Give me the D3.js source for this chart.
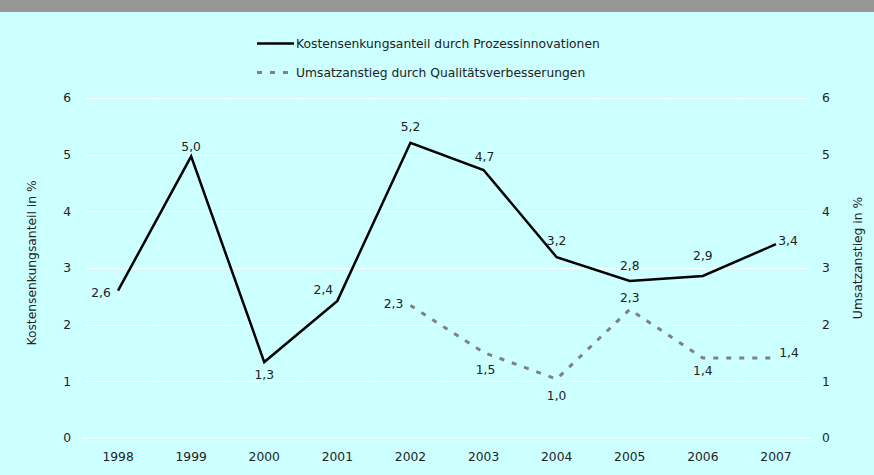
<!DOCTYPE html>
<html><head><meta charset="utf-8">
<script src="https://cdn.jsdelivr.net/npm/d3@7"></script>
<style>
html,body{margin:0;padding:0;background:#CCFFFF;}
svg{display:block;font-family:"DejaVu Sans",sans-serif;}
</style></head>
<body>
<svg id="chart" width="874" height="475"></svg>
<script>
const years = ["1998","1999","2000","2001","2002","2003","2004","2005","2006","2007"];
const kosten = [2.6, 4.97, 1.34, 2.42, 5.21, 4.73, 3.19, 2.77, 2.86, 3.42];
const umsatz = [null, null, null, null, 2.34, 1.51, 1.04, 2.27, 1.41, 1.41];
const yTicks = [0,1,2,3,4,5,6];
const seriesNames = ["Kostensenkungsanteil durch Prozessinnovationen","Umsatzanstieg durch Qualitätsverbesserungen"];
const axisTitles = ["Kostensenkungsanteil in %","Umsatzanstieg in %"];
// label offsets (label centre relative to point), styling config
const kostenLabelOff = [[-17,2],[0,-10],[0,12],[-14,-11],[0,-16],[1,-13],[0,-17],[0,-16],[0,-20],[12,-4]];
const umsatzLabelOff = [null,null,null,null,[-17,-2],[2,17],[0,16],[0,-12],[0,12],[13,-6]];

const FONT = '"DejaVu Sans",sans-serif';
const FS = 12.3;
const svg = d3.select("#chart");
const W = 874, H = 475;
svg.append("rect").attr("width",W).attr("height",H).attr("fill","#CCFFFF");
svg.append("rect").attr("width",W).attr("height",12).attr("fill","#969696");

const x0 = 81.5, x1 = 812.5, yTop = 98, yBot = 438;
const x = d3.scaleBand().domain(years).range([x0,x1]);
const y = d3.scaleLinear().domain([0,6]).range([yBot,yTop]);
const fmt = v => d3.format(".1f")(v).replace(".",",");

const g = svg.append("g");
yTicks.forEach(t => {
  if (t === 0) return;
  years.forEach((yr,i) => {
    const a = x(yr) + (i===0 ? 4.5 : 1), b = x(yr) + x.bandwidth() - (i===years.length-1 ? 4 : 0);
    g.append("line").attr("x1",a).attr("x2",b).attr("y1",Math.round(y(t))+0.5).attr("y2",Math.round(y(t))+0.5)
      .attr("stroke","#ffffff").attr("stroke-width",1.2);
  });
});
g.append("line").attr("x1",x0).attr("x2",x1-2).attr("y1",y(0)).attr("y2",y(0)).attr("stroke","#ffffff").attr("stroke-width",1.5);

const gl = svg.append("g").attr("transform","translate(71,0)")
  .call(d3.axisLeft(y).tickValues(yTicks).tickFormat(d3.format("d")).tickSize(0).tickPadding(0));
const gr = svg.append("g").attr("transform","translate(822,0)")
  .call(d3.axisRight(y).tickValues(yTicks).tickFormat(d3.format("d")).tickSize(0).tickPadding(0));
[gl,gr].forEach(a => {
  a.select(".domain").remove();
  a.selectAll("text").attr("font-size",FS).attr("fill","#222").attr("font-family",FONT);
});
const gx = svg.append("g").attr("transform",`translate(0,${y(0)+6})`).call(d3.axisBottom(x).tickSize(0).tickPadding(8));
gx.select(".domain").remove();
gx.selectAll("text").attr("font-size",FS).attr("fill","#222").attr("font-family",FONT);

svg.append("text").attr("transform","translate(36,263) rotate(-90)").attr("text-anchor","middle")
  .attr("font-size",FS).attr("fill","#222").text(axisTitles[0]);
svg.append("text").attr("transform","translate(862,258) rotate(-90)").attr("text-anchor","middle")
  .attr("font-size",FS).attr("fill","#222").text(axisTitles[1]);

const cx = d => x(d) + x.bandwidth()/2;
const line1 = d3.line().x((d,i)=>cx(years[i])).y(d=>y(d));
svg.append("path").attr("d",line1(kosten)).attr("fill","none").attr("stroke","#000").attr("stroke-width",2.5);
const line2 = d3.line().defined(d=>d!==null).x((d,i)=>cx(years[i])).y(d=>y(d));
svg.append("path").attr("d",line2(umsatz)).attr("fill","none").attr("stroke","#808080").attr("stroke-width",3)
  .attr("stroke-dasharray","5,8");

function place(vals, offs){
  vals.forEach((v,i)=>{
    if (v===null) return;
    const px = cx(years[i]), py = y(v);
    svg.append("text").attr("x",px+offs[i][0]).attr("y",py+offs[i][1]+4.5).attr("text-anchor","middle")
      .attr("font-size",FS).attr("fill","#222").text(fmt(v));
  });
}
place(kosten, kostenLabelOff);
place(umsatz, umsatzLabelOff);

const lg = svg.append("g");
lg.append("line").attr("x1",257).attr("x2",294).attr("y1",43.5).attr("y2",43.5).attr("stroke","#000").attr("stroke-width",2.5);
lg.append("text").attr("x",296).attr("y",48).attr("font-size",FS).attr("fill","#222").text(seriesNames[0]);
lg.append("line").attr("x1",257).attr("x2",290).attr("y1",72.5).attr("y2",72.5).attr("stroke","#808080").attr("stroke-width",3).attr("stroke-dasharray","5,8");
lg.append("text").attr("x",296).attr("y",77).attr("font-size",FS).attr("fill","#222").text(seriesNames[1]);
</script>
</body></html>
